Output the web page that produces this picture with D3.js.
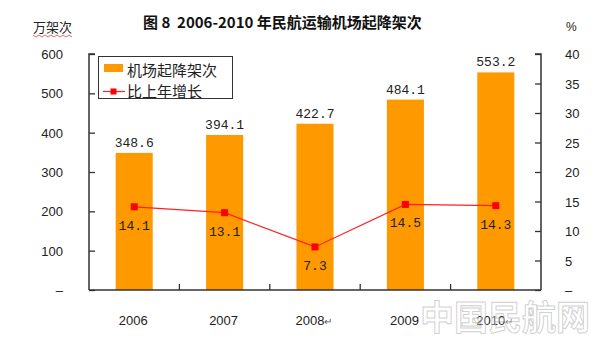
<!DOCTYPE html>
<html>
<head>
<meta charset="utf-8">
<script src="https://cdn.jsdelivr.net/npm/d3@7"></script>
<style>
  html, body { margin: 0; padding: 0; background: #fff; }
  svg { display: block; }
</style>
</head>
<body>
<svg id="chart" width="600" height="338"></svg>
<script>
// Airport take-offs and landings, 2006-2010
const years = ["2006", "2007", "2008", "2009", "2010"];
const yearMarks = ["", "", "\u21b5", "", "\u21b5"];
const movements = [348.6, 394.1, 422.7, 484.1, 553.2];   // 万架次
const growth = [14.1, 13.1, 7.3, 14.5, 14.3];            // %
const leftTicks = [0, 100, 200, 300, 400, 500, 600];
const rightTicks = [0, 5, 10, 15, 20, 25, 30, 35, 40];

const svg = d3.select("#chart");
const plotLeft = 89, plotRight = 541, plotTop = 54, plotBottom = 290;
const sans = "'Liberation Sans', Arial, sans-serif";
const mono = "'Liberation Mono', 'DejaVu Sans Mono', monospace";
const cjk = "'Noto Sans CJK SC', sans-serif";
const axisColor = "#333";

const x = d3.scaleBand().domain(years).range([plotLeft, plotRight]).paddingInner(0.59).paddingOuter(0.295);
const xBand = d3.scaleBand().domain(years).range([plotLeft, plotRight]);
const yL = d3.scaleLinear().domain([0, 600]).range([plotBottom, plotTop]);
const yR = d3.scaleLinear().domain([0, 40]).range([plotBottom, plotTop]);

// title and axis units
svg.append("text").attr("x", 143).attr("y", 28).style("white-space", "pre")
  .attr("font-family", cjk).attr("font-weight", "bold").attr("font-size", 15).attr("fill", "#111")
  .text("图 8  2006-2010 年民航运输机场起降架次");
svg.append("text").attr("x", 33).attr("y", 32)
  .attr("font-family", cjk).attr("font-size", 13).attr("fill", "#222").text("万架次");
svg.append("path")
  .attr("d", d3.range(33, 73, 3).map((px, i) => (i ? "L" : "M") + px + "," + (i % 2 ? 37 : 35)).join(""))
  .attr("fill", "none").attr("stroke", "#e04040").attr("stroke-width", 0.8);
svg.append("text").attr("x", 566).attr("y", 31)
  .attr("font-family", sans).attr("font-size", 12).attr("fill", "#222").text("%");

// bars
svg.append("g").selectAll("rect").data(years).join("rect")
  .attr("x", d => x(d)).attr("width", x.bandwidth())
  .attr("y", (d, i) => yL(movements[i])).attr("height", (d, i) => plotBottom - yL(movements[i]))
  .attr("fill", "#ff9900");

// axes
const fmtL = d => d === 0 ? "–" : d;
const gL = svg.append("g").attr("transform", `translate(${plotLeft},0)`)
  .call(d3.axisRight(yL).tickValues(leftTicks).tickSize(6).tickFormat(""));
const gR = svg.append("g").attr("transform", `translate(${plotRight},0)`)
  .call(d3.axisLeft(yR).tickValues(rightTicks).tickSize(6).tickFormat(""));
const gB = svg.append("g").attr("transform", `translate(0,${plotBottom})`)
  .call(d3.axisTop(xBand).tickValues(years.slice(1)).tickSize(6).tickFormat(""));
gB.selectAll(".tick").attr("transform", d => `translate(${xBand(d)},0)`);
[gL, gR, gB].forEach(g => {
  g.selectAll("path.domain").attr("stroke", axisColor).attr("stroke-width", 1.5);
  g.selectAll(".tick line").attr("stroke", axisColor).attr("stroke-width", 1.3);
});
gL.select("path.domain").attr("d", `M6,${plotTop}H0V${plotBottom}`);
gR.select("path.domain").attr("d", `M-6,${plotTop}H0V${plotBottom}`);
gB.select("path.domain").attr("d", `M${plotLeft},0H${plotRight}`);

svg.append("g").selectAll("text").data(leftTicks).join("text")
  .attr("x", 63).attr("y", d => yL(d) + 5).attr("text-anchor", "end")
  .attr("font-family", sans).attr("font-size", 13).attr("fill", "#222").text(fmtL);
svg.append("g").selectAll("text").data(rightTicks).join("text")
  .attr("x", 565).attr("y", d => yR(d) + 5)
  .attr("font-family", sans).attr("font-size", 13).attr("fill", "#222").text(fmtL);

// category labels
const xl = svg.append("g").selectAll("text").data(years).join("text")
  .attr("x", d => x(d) + x.bandwidth() / 2 - 1).attr("y", 325).attr("text-anchor", "middle")
  .attr("font-family", sans).attr("font-size", 13).attr("fill", "#222");
xl.append("tspan").text(d => d);
xl.append("tspan").attr("font-size", 10).attr("fill", "#555").text((d, i) => yearMarks[i]);

// bar value labels
svg.append("g").selectAll("text").data(years).join("text")
  .attr("x", d => x(d) + x.bandwidth() / 2).attr("y", (d, i) => yL(movements[i]) - 6)
  .attr("text-anchor", "middle").attr("font-family", mono).attr("font-size", 13).attr("fill", "#222")
  .text((d, i) => movements[i].toFixed(1));

// growth line
const cx = d => x(d) + x.bandwidth() / 2;
svg.append("path").datum(years)
  .attr("d", d3.line().x(cx).y((d, i) => yR(growth[i])))
  .attr("fill", "none").attr("stroke", "#ff2020").attr("stroke-width", 1.2);
svg.append("g").selectAll("rect").data(years).join("rect")
  .attr("x", d => cx(d) - 3.5).attr("y", (d, i) => yR(growth[i]) - 3.5)
  .attr("width", 7).attr("height", 7).attr("fill", "#ff0000");
svg.append("g").selectAll("text").data(years).join("text")
  .attr("x", cx).attr("y", (d, i) => yR(growth[i]) + 23)
  .attr("text-anchor", "middle").attr("font-family", mono).attr("font-size", 13).attr("fill", "#222")
  .text((d, i) => growth[i].toFixed(1));

// legend
const lg = svg.append("g");
lg.append("rect").attr("x", 98.5).attr("y", 56.5).attr("width", 134).attr("height", 42)
  .attr("fill", "#fff").attr("stroke", "#333").attr("stroke-width", 1);
lg.append("rect").attr("x", 104).attr("y", 64).attr("width", 19).attr("height", 8).attr("fill", "#ff9900");
lg.append("line").attr("x1", 103).attr("x2", 125).attr("y1", 91.5).attr("y2", 91.5)
  .attr("stroke", "#ff2020").attr("stroke-width", 1.2);
lg.append("rect").attr("x", 110.5).attr("y", 88.5).attr("width", 6).attr("height", 6).attr("fill", "#ff0000");
lg.append("text").attr("x", 127).attr("y", 76).attr("font-family", cjk).attr("font-size", 15)
  .attr("fill", "#222").text("机场起降架次");
lg.append("text").attr("x", 127).attr("y", 97).attr("font-family", cjk).attr("font-size", 15)
  .attr("fill", "#222").text("比上年增长");

// site mark
svg.append("text").attr("x", 420).attr("y", 330)
  .attr("font-family", cjk).attr("font-size", 34).attr("font-weight", "bold")
  .attr("fill", "rgba(255,255,255,0.35)").attr("stroke", "rgba(150,150,150,0.45)").attr("stroke-width", 1)
  .text("中国民航网");
</script>
</body>
</html>
